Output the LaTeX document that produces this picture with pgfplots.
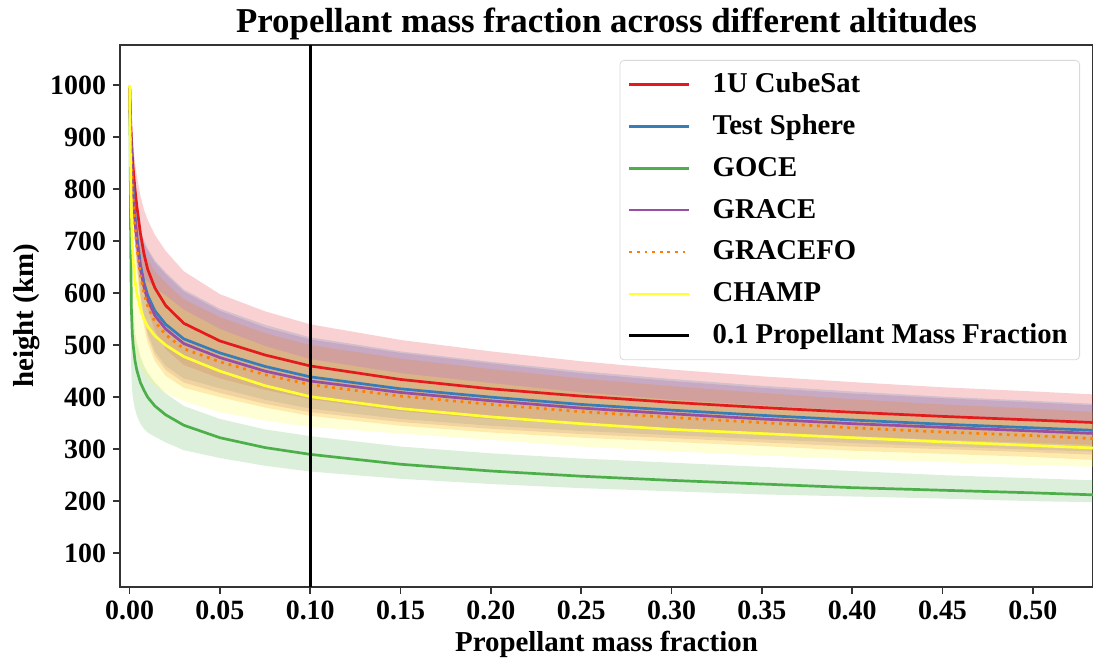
\documentclass[border=0pt]{standalone}
\usepackage{fontspec}
\setmainfont{Liberation Serif}
\usepackage{pgfplots}
\pgfplotsset{compat=1.18}
\usepackage{pgfplotstable}
\usepgfplotslibrary{fillbetween}

\definecolor{cred}{HTML}{E41A1C}
\definecolor{cblue}{HTML}{377EB8}
\definecolor{cgreen}{HTML}{4DAF4A}
\definecolor{cpurple}{HTML}{984EA3}
\definecolor{corange}{HTML}{FF7F00}
\definecolor{cyellow}{HTML}{FFFF33}

\pgfplotstableread{
x      rc   ru   rl   bc   bu   bl   gc   gu   gl   pc   pu   pl   oc   ou   ol   yc   yu   yl
0      1000 1000 1000 1000 1000 1000 1000 1000 1000 1000 1000 1000 1000 1000 1000 1000 1000 1000
0.0003 955  980  935  945  969  926  900  960  750  940  965  921  935  959  916  905  927  800
0.0006 930  960  906  910  938  887  700  850  520  903  933  880  895  924  872  835  862  680
0.001  900  935  872  872  905  845  570  690  440  864  899  838  855  888  829  760  792  600
0.0015 865  905  833  830  868  800  522  610  410  822  862  792  812  850  782  695  731  550
0.002  840  885  804  800  843  766  500  570  395  791  836  757  780  823  746  662  703  520
0.003  800  852  758  748  797  708  470  525  377  739  791  700  727  776  688  625  672  492
0.004  768  826  722  710  765  666  452  505  365  701  759  657  689  744  645  600  652  475
0.006  715  787  657  655  723  600  428  478  349  646  718  592  634  702  580  570  635  458
0.008  675  760  607  620  701  555  413  460  339  611  696  547  599  680  535  550  627  445
0.01   646  741  570  596  686  524  400  447  332  587  682  516  575  665  504  536  622  436
0.014  610  712  528  566  663  488  383  428  324  557  659  480  545  642  469  518  610  422
0.02   576  681  492  540  640  460  366  407  313  531  636  452  520  620  441  500  595  408
0.03   542  642  462  512  607  436  346  383  298  503  603  428  493  588  418  478  568  392
0.05   508  598  436  485  570  417  322  358  283  476  566  408  468  554  400  450  531  371
0.075  481  565  414  459  539  395  303  338  268  450  534  387  443  523  380  422  498  355
0.1    460  540  396  439  515  378  290  325  257  431  511  371  424  500  364  401  473  343
0.15   434  510  373  416  488  358  271  305  243  409  485  352  402  474  345  378  446  330
0.2    416  488  358  400  468  345  258  292  233  393  465  339  386  454  332  362  427  318
0.25   402  469  348  386  450  335  248  282  225  379  446  329  372  436  322  349  409  305
0.3    390  453  340  375  435  327  240  274  219  368  431  321  361  421  314  338  395  296
0.35   380  440  332  365  422  319  233  266  213  358  418  313  351  408  306  330  384  288
0.4    371  429  325  356  411  312  226  258  209  349  407  305  341  396  297  322  374  281
0.45   363  419  318  348  401  305  221  250  205  342  398  300  333  386  291  314  364  275
0.5    356  411  312  341  393  299  216  244  200  335  390  294  326  378  285  307  357  269
0.535  351  405  308  336  387  295  212  240  198  330  384  289  320  371  279  302  351  266
}\data

\begin{document}
\begin{tikzpicture}
\begin{axis}[
  width=486.5bp, height=271bp, scale only axis,
  xmin=-0.0053, xmax=0.5333, ymin=35, ymax=1077,
  xtick={0,0.05,0.1,0.15,0.2,0.25,0.3,0.35,0.4,0.45,0.5},
  ytick={100,200,300,400,500,600,700,800,900,1000},
  tick align=outside, tick pos=left, major tick length=3.5bp,
  tick style={black!80, line width=0.8bp},
  axis line style={black!80, line width=1bp},
  xticklabel style={/pgf/number format/.cd, fixed, fixed zerofill, precision=2, assume math mode=true},
  yticklabel style={/pgf/number format/.cd, set thousands separator={}, assume math mode=true},
  ticklabel style={font=\fontsize{14}{16}\selectfont\bfseries},
  title={Propellant mass fraction across different altitudes},
  title style={font=\fontsize{17.5}{21}\selectfont\bfseries, at={(axis description cs:0.5,1)}, anchor=base, yshift=0.5bp},
  xlabel={Propellant mass fraction},
  xlabel style={font=\fontsize{14.5}{17}\selectfont\bfseries, at={(axis description cs:0.5,-0.1185)}, anchor=base},
  ylabel={height (km)},
  ylabel style={font=\fontsize{14.5}{17}\selectfont\bfseries, at={(axis description cs:-0.0884,0.5)}, anchor=base},
  legend image code/.code={\draw[#1] (0bp,0bp) -- (30bp,0bp);},
  legend cell align=left,
  legend style={at={(axis description cs:1,1)}, anchor=north east, xshift=-6.5bp, yshift=-7.5bp,
    draw=black!15, rounded corners=2bp, fill=white, fill opacity=0.8, text opacity=1,
    font=\fontsize{14.4}{17}\selectfont\bfseries,
    inner xsep=4bp, inner ysep=3bp, row sep=2.95bp,
    nodes={text height=11bp, text depth=3bp, inner ysep=2bp},
    /tikz/every odd column/.append style={column sep=9bp}},
]
% bands
\addplot[draw=none, name path=ru, forget plot] table[x=x,y=ru]{\data};
\addplot[draw=none, name path=rl, forget plot] table[x=x,y=rl]{\data};
\addplot[draw=none, fill=cred, fill opacity=0.2, forget plot] fill between[of=ru and rl];
\addplot[draw=none, name path=bu, forget plot] table[x=x,y=bu]{\data};
\addplot[draw=none, name path=bl, forget plot] table[x=x,y=bl]{\data};
\addplot[draw=none, fill=cblue, fill opacity=0.2, forget plot] fill between[of=bu and bl];
\addplot[draw=none, name path=gu, forget plot] table[x=x,y=gu]{\data};
\addplot[draw=none, name path=gl, forget plot] table[x=x,y=gl]{\data};
\addplot[draw=none, fill=cgreen, fill opacity=0.2, forget plot] fill between[of=gu and gl];
\addplot[draw=none, name path=pu, forget plot] table[x=x,y=pu]{\data};
\addplot[draw=none, name path=pl, forget plot] table[x=x,y=pl]{\data};
\addplot[draw=none, fill=cpurple, fill opacity=0.2, forget plot] fill between[of=pu and pl];
\addplot[draw=none, name path=ou, forget plot] table[x=x,y=ou]{\data};
\addplot[draw=none, name path=ol, forget plot] table[x=x,y=ol]{\data};
\addplot[draw=none, fill=corange, fill opacity=0.2, forget plot] fill between[of=ou and ol];
\addplot[draw=none, name path=yu, forget plot] table[x=x,y=yu]{\data};
\addplot[draw=none, name path=yl, forget plot] table[x=x,y=yl]{\data};
\addplot[draw=none, fill=cyellow, fill opacity=0.2, forget plot] fill between[of=yu and yl];
% lines
\addplot[cred, line width=1.35bp] table[x=x,y=rc]{\data};
\addlegendentry{1U CubeSat}
\addplot[cblue, line width=1.35bp] table[x=x,y=bc]{\data};
\addlegendentry{Test Sphere}
\addplot[cgreen, line width=1.35bp] table[x=x,y=gc]{\data};
\addlegendentry{GOCE}
\addplot[cpurple, line width=1.35bp] table[x=x,y=pc]{\data};
\addlegendentry{GRACE}
\addplot[corange, line width=1.35bp, dash pattern=on 1.4bp off 2.4bp] table[x=x,y=oc]{\data};
\addlegendentry{GRACEFO}
\addplot[cyellow, line width=1.35bp] table[x=x,y=yc]{\data};
\addlegendentry{CHAMP}
\addplot[black, line width=1.4bp] coordinates {(0.1,35) (0.1,1077)};
\addlegendentry{0.1 Propellant Mass Fraction}
\end{axis}
\pgfresetboundingbox
\path[use as bounding box] ([xshift=-60bp,yshift=-37bp]current axis.south west) rectangle ([yshift=22.5bp]current axis.north east);
\end{tikzpicture}
\end{document}
